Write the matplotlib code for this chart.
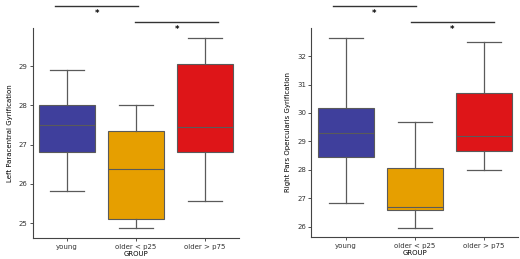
import numpy as np
import matplotlib
matplotlib.use('Agg')
import matplotlib.pyplot as plt

# 分组
groups = ['young', 'older < p25', 'older > p75']
colors = ['#3f3f9c', '#e69f00', '#de1518']

# 左图: Left Paracentral Gyrification (下须, Q1, 中位数, Q3, 上须)
left_lo = [25.81, 24.88, 25.57]
left_q1 = [26.82, 25.10, 26.82]
left_med = [27.50, 26.37, 27.45]
left_q3 = [28.02, 27.35, 29.05]
left_hi = [28.90, 28.00, 29.72]

# 右图: Right Pars Opercularis Gyrification
right_lo = [26.85, 25.97, 28.00]
right_q1 = [28.45, 26.60, 28.65]
right_med = [29.30, 26.70, 29.20]
right_q3 = [30.17, 28.07, 30.72]
right_hi = [32.62, 29.70, 32.50]

# 显著性标记 (起点, 终点)
left_sig = [(-0.17, 1.03), (0.99, 2.19)]
right_sig = [(-0.19, 1.01), (0.94, 2.14)]


def draw(ax, lo, q1, med, q3, hi, ylabel, ylim, ticks, sig):
    stats = []
    for i in range(len(groups)):
        stats.append(dict(whislo=lo[i], q1=q1[i], med=med[i], q3=q3[i], whishi=hi[i],
                          fliers=[], label=groups[i]))
    grey = '#5a5a5a'
    bp = ax.bxp(stats, positions=range(len(groups)), widths=0.8, patch_artist=True,
                showfliers=False,
                boxprops=dict(edgecolor=grey, linewidth=0.8),
                medianprops=dict(color=grey, linewidth=0.8),
                whiskerprops=dict(color=grey, linewidth=0.9),
                capprops=dict(color=grey, linewidth=0.9))
    for patch, c in zip(bp['boxes'], colors):
        patch.set_facecolor(c)
    for cap in bp['caps']:
        m = np.mean(cap.get_xdata())
        cap.set_xdata([m - 0.24, m + 0.24])
    ax.set_xlim(-0.5, 2.5)
    ax.set_ylim(*ylim)
    ax.set_yticks(ticks)
    ax.set_xticks(range(len(groups)))
    ax.set_xticklabels(groups)
    ax.spines['top'].set_visible(False)
    ax.spines['right'].set_visible(False)
    for s in ['left', 'bottom']:
        ax.spines[s].set_color('#444444')
        ax.spines[s].set_linewidth(0.8)
    ax.tick_params(labelsize=5, length=2, width=0.6, pad=2, colors='#333333')
    ax.set_ylabel(ylabel, fontsize=5, labelpad=4)
    ax.set_xlabel('GROUP', fontsize=5, labelpad=1)

    # 显著性线条 (轴外)
    ys = [1.105, 1.03]
    for (x0, x1), yy in zip(sig, ys):
        ax.plot([x0, x1], [yy, yy], color='#333333', lw=1.0,
                transform=ax.get_xaxis_transform(), clip_on=False)
        ax.text((x0 + x1) / 2, yy - 0.035, '*', ha='center', va='center', fontsize=6,
                fontweight='bold', transform=ax.get_xaxis_transform())


fig = plt.figure(figsize=(5.2, 2.59), dpi=100)
ax1 = fig.add_axes([0.0625, 0.081, 0.398, 0.811])
ax2 = fig.add_axes([0.599, 0.085, 0.398, 0.807])

draw(ax1, left_lo, left_q1, left_med, left_q3, left_hi,
     'Left Paracentral Gyrification', (24.62, 29.97), [25, 26, 27, 28, 29], left_sig)
draw(ax2, right_lo, right_q1, right_med, right_q3, right_hi,
     'Right Pars Opercularis Gyrification', (25.64, 32.99), [26, 27, 28, 29, 30, 31, 32], right_sig)

fig.savefig('out.png', dpi=100)
